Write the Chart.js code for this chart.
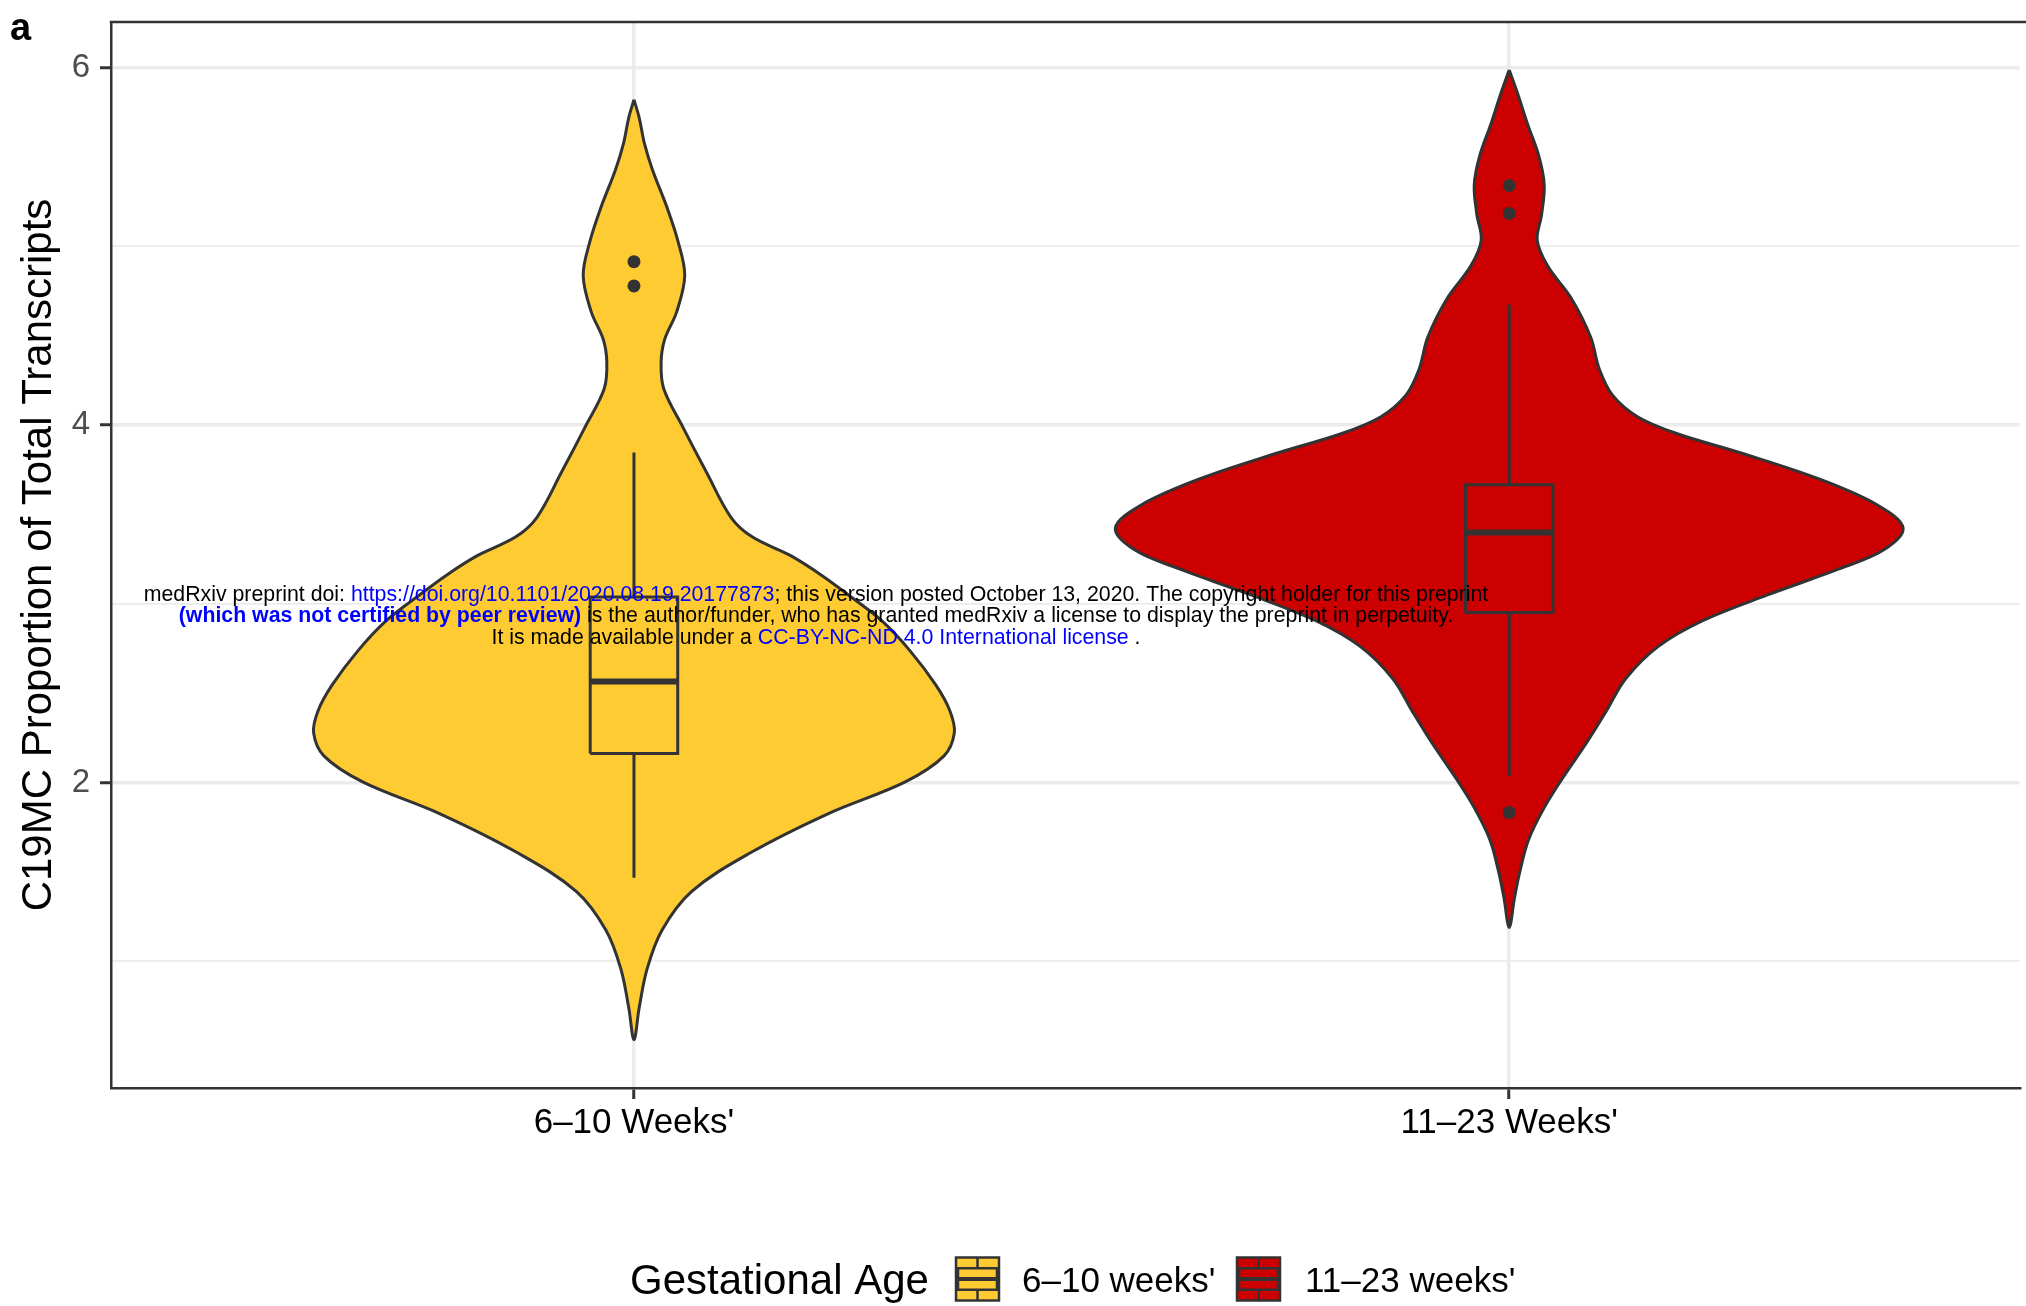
<!DOCTYPE html>
<html>
<head>
<meta charset="utf-8">
<title>C19MC violin</title>
<script src="https://cdn.jsdelivr.net/npm/chart.js@4.4.1/dist/chart.umd.min.js"></script>
<style>
  html, body { margin: 0; padding: 0; background: #fff; }
  canvas { display: block; }
</style>
</head>
<body>
<canvas id="mycanvas" width="2026" height="1306"></canvas>
<script>
var categories = ["6–10 Weeks'", "11–23 Weeks'"];
var legendLabels = ["6–10 weeks'", "11–23 weeks'"];
var fillColors = ["#FFCB33", "#CC0000"];

// violin outlines: y value and half width (category units)
var violinY1 = [5.820, 5.719, 5.574, 5.430, 5.214, 5.033, 4.838, 4.636, 4.478, 4.348, 4.203, 3.987, 3.734, 3.482, 3.374, 3.266,
                3.157, 3.049, 2.905, 2.739, 2.544, 2.400, 2.277, 2.147, 2.003, 1.823, 1.606, 1.390, 1.173, 0.957, 0.740, 0.560];
var violinW1 = [0, .006, .012, .021, .038, .050, .058, .049, .035, .031, .034, .056, .083, .111, .135, .180,
                .215, .245, .283, .315, .345, .361, .366, .354, .310, .221, .133, .066, .032, .015, .006, 0];
var violinY2 = [5.986, 5.863, 5.683, 5.502, 5.343, 5.177, 5.033, 4.889, 4.708, 4.492, 4.312, 4.167, 4.045, 3.951, 3.843, 3.698,
                3.554, 3.424, 3.302, 3.193, 3.049, 2.905, 2.760, 2.580, 2.400, 2.219, 2.039, 1.859, 1.678, 1.498, 1.353, 1.188];
var violinW2 = [0, .009, .021, .034, .040, .037, .032, .044, .071, .093, .103, .118, .147, .192, .265, .354,
                .420, .450, .428, .376, .295, .221, .170, .133, .111, .088, .063, .040, .022, .012, .006, 0];

// whisker low, Q1, median, Q3, whisker high
var box1 = [1.467, 2.162, 2.565, 3.038, 3.846];
var box2 = [2.035, 2.951, 3.399, 3.665, 4.674];
var outliers1 = [4.914, 4.778];
var outliers2 = [5.340, 5.184, 1.831];

var yTicks = [1, 2, 3, 4, 5, 6];
var yLabelled = [2, 4, 6];

var watermark = [
  [["medRxiv preprint doi: ", "#000", false], ["https://doi.org/10.1101/2020.08.19.20177873", "#0000FF", false],
   ["; this version posted October 13, 2020. The copyright holder for this preprint", "#000", false]],
  [["(which was not certified by peer review)", "#0000FF", true],
   [" is the author/funder, who has granted medRxiv a license to display the preprint in perpetuity.", "#000", false]],
  [["It is made available under a ", "#000", false], ["CC-BY-NC-ND 4.0 International license", "#0000FF", false], [" .", "#000", false]]
];

var FONT = "'Liberation Sans', Arial, Helvetica, sans-serif";
var DARK = "#333333";
var BOX_HALF = 0.05;

Chart.defaults.font.family = FONT;

function violinPoints(pos, ys, ws) {
  var pts = [];
  for (var i = 0; i < ys.length; i++) pts.push({x: pos - ws[i], y: ys[i]});
  for (var j = ys.length - 2; j >= 0; j--) pts.push({x: pos + ws[j], y: ys[j]});
  return pts;
}

function boxPoints(pos, b) {
  return [
    {x: pos - BOX_HALF, y: b[1]}, {x: pos + BOX_HALF, y: b[1]},
    {x: pos + BOX_HALF, y: b[3]}, {x: pos - BOX_HALF, y: b[3]},
    {x: pos - BOX_HALF, y: b[1]}
  ];
}

function lineSet(data, width, order) {
  return {type: 'line', data: data, borderColor: DARK, borderWidth: width, pointRadius: 0,
          tension: 0, fill: false, order: order, borderCapStyle: 'butt'};
}

var groups = [
  {pos: 1, ys: violinY1, ws: violinW1, box: box1, out: outliers1, color: fillColors[0]},
  {pos: 2, ys: violinY2, ws: violinW2, box: box2, out: outliers2, color: fillColors[1]}
];

var datasets = [];
groups.forEach(function(g) {
  datasets.push({
    type: 'line', data: violinPoints(g.pos, g.ys, g.ws), fill: 'shape',
    backgroundColor: g.color, borderColor: DARK, borderWidth: 3, pointRadius: 0,
    tension: 0.35, borderJoinStyle: 'round', order: 5
  });
  datasets.push(lineSet([{x: g.pos, y: g.box[3]}, {x: g.pos, y: g.box[4]}], 3, 4));
  datasets.push(lineSet([{x: g.pos, y: g.box[0]}, {x: g.pos, y: g.box[1]}], 3, 4));
  var b = lineSet(boxPoints(g.pos, g.box), 3, 3);
  b.fill = 'shape';
  b.backgroundColor = g.color;
  b.borderJoinStyle = 'miter';
  datasets.push(b);
  datasets.push(lineSet([{x: g.pos - BOX_HALF, y: g.box[2]}, {x: g.pos + BOX_HALF, y: g.box[2]}], 6, 2));
  datasets.push({
    type: 'scatter', data: g.out.map(function(v) { return {x: g.pos, y: v}; }),
    pointRadius: 6.5, pointBackgroundColor: DARK, pointBorderWidth: 0, showLine: false, order: 1
  });
});

var decorations = {
  id: 'decorations',
  afterDraw: function(chart) {
    var ctx = chart.ctx;
    var a = chart.chartArea;
    ctx.save();
    // top border of the panel
    ctx.strokeStyle = DARK;
    ctx.lineWidth = 2.5;
    ctx.beginPath();
    ctx.moveTo(a.left - 1.25, a.top);
    ctx.lineTo(a.right + 20, a.top);
    ctx.stroke();

    // panel tag
    ctx.fillStyle = '#000';
    ctx.font = 'bold 38px ' + FONT;
    ctx.textAlign = 'left';
    ctx.textBaseline = 'alphabetic';
    ctx.fillText('a', 10, 40);

    // medRxiv stamp
    var cx = 816;
    var lineY = [595, 616, 638];
    ctx.textBaseline = 'middle';
    watermark.forEach(function(line, li) {
      var total = 0;
      line.forEach(function(seg) {
        ctx.font = (seg[2] ? 'bold ' : '') + '21.3px ' + FONT;
        total += ctx.measureText(seg[0]).width;
      });
      var x = cx - total / 2;
      line.forEach(function(seg) {
        ctx.font = (seg[2] ? 'bold ' : '') + '21.3px ' + FONT;
        ctx.fillStyle = seg[1];
        ctx.fillText(seg[0], x, lineY[li]);
        x += ctx.measureText(seg[0]).width;
      });
    });

    // legend
    var ly = 1279;
    ctx.fillStyle = '#000';
    ctx.font = '42px ' + FONT;
    ctx.textAlign = 'left';
    ctx.fillText('Gestational Age', 630, ly + 3);
    var keyX = [956, 1237];
    var textX = [1022, 1305];
    var k = 43;
    for (var i = 0; i < legendLabels.length; i++) {
      var x0 = keyX[i], y0 = ly - k / 2;
      ctx.fillStyle = fillColors[i];
      ctx.fillRect(x0, y0, k, k);
      ctx.strokeStyle = DARK;
      ctx.lineWidth = 2.5;
      ctx.strokeRect(x0, y0, k, k);
      ctx.beginPath();
      ctx.moveTo(x0 + k / 2, y0); ctx.lineTo(x0 + k / 2, y0 + k * 0.25);
      ctx.moveTo(x0 + k / 2, y0 + k * 0.75); ctx.lineTo(x0 + k / 2, y0 + k);
      ctx.stroke();
      ctx.strokeRect(x0 + 2, y0 + k * 0.25, k - 4, k * 0.5);
      ctx.lineWidth = 4;
      ctx.beginPath();
      ctx.moveTo(x0 + 2, y0 + k / 2); ctx.lineTo(x0 + k - 2, y0 + k / 2);
      ctx.stroke();
      ctx.fillStyle = '#000';
      ctx.font = '35px ' + FONT;
      ctx.fillText(legendLabels[i], textX[i], ly + 3);
    }
    ctx.restore();
  }
};

var ctx = document.getElementById('mycanvas');
var chart = new Chart(ctx, {
  type: 'line',
  data: {datasets: datasets},
  options: {
    responsive: false,
    animation: false,
    events: [],
    layout: {padding: {left: 0, top: 22, right: 0, bottom: 148}},
    plugins: {legend: {display: false}, tooltip: {enabled: false}},
    scales: {
      x: {
        type: 'linear', min: 0.4025, max: 2.583,
        afterBuildTicks: function(scale) {
          scale.ticks = categories.map(function(c, i) { return {value: i + 1}; });
        },
        afterFit: function(scale) {
          scale.height = 70;
          scale.paddingLeft = 0; scale.paddingRight = 0;
        },
        ticks: {
          autoSkip: false, maxRotation: 0, padding: 3, color: '#000',
          font: {size: 35},
          callback: function(v) { return categories[v - 1]; }
        },
        grid: {color: '#ebebeb', lineWidth: 3.5, tickColor: DARK, tickLength: 11, tickWidth: 3},
        border: {display: true, color: DARK, width: 2.5}
      },
      y: {
        type: 'linear', min: 0.29, max: 6.255,
        afterBuildTicks: function(scale) {
          scale.ticks = yTicks.map(function(v) { return {value: v}; });
        },
        afterFit: function(scale) {
          scale.width = 111;
          scale.paddingTop = 0; scale.paddingBottom = 0;
        },
        ticks: {
          autoSkip: false, padding: 10, color: '#4d4d4d', font: {size: 33},
          callback: function(v) { return yLabelled.indexOf(v) >= 0 ? String(v) : ''; }
        },
        grid: {
          color: '#ebebeb',
          lineWidth: function(c) { return c.tick && yLabelled.indexOf(c.tick.value) >= 0 ? 3.5 : 1.8; },
          tickColor: function(c) { return c.tick && yLabelled.indexOf(c.tick.value) >= 0 ? DARK : 'rgba(0,0,0,0)'; },
          tickLength: 11, tickWidth: 3
        },
        border: {display: true, color: DARK, width: 2.5},
        title: {
          display: true, text: 'C19MC Proportion of Total Transcripts', color: '#000',
          font: {size: 42}, padding: {top: 14, bottom: 0}
        }
      }
    }
  },
  plugins: [decorations]
});
</script>
</body>
</html>
